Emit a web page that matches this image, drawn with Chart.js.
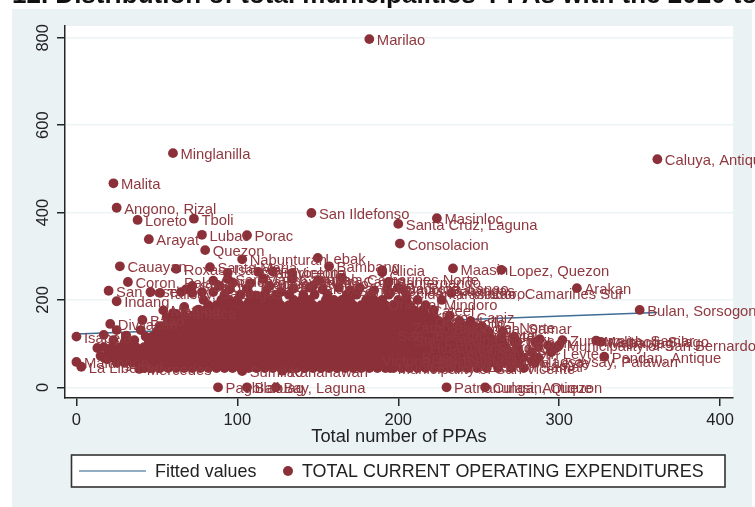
<!DOCTYPE html>
<html>
<head>
<meta charset="utf-8">
<title>PPAs scatter</title>
<script src="https://cdn.jsdelivr.net/npm/chart.js@4"></script>
<style>
    html, body { margin: 0; padding: 0; background: #fff; overflow: hidden; width: 755px; height: 507px; }
    #title { position: absolute; left: 12px; top: -21px; white-space: nowrap; z-index: 2;
             font: bold 26px "Liberation Sans", Arial, sans-serif; color: #111; }
    canvas { position: absolute; left: 0; top: 0; filter: blur(0.6px); }
</style>
</head>
<body>
<div id="title">12. Distribution of total municipalities' PPAs with the 2020 to</div>
<canvas id="chart" width="755" height="507"></canvas>
<script>
const xTicks = [0, 100, 200, 300, 400];
const yTicks = [0, 200, 400, 600, 800];
const xAxisTitle = 'Total number of PPAs';
const fittedName = 'Fitted values';
const scatterName = 'TOTAL CURRENT OPERATING EXPENDITURES';

// fitted line ends
const fittedX = [0, 361];
const fittedY = [122, 171];

// municipalities whose label can be read (or nearly)
const names = ['Marilao', 'Minglanilla', 'Malita', 'Angono, Rizal', 'Loreto', 'Tboli', 'Arayat', 'Lubao', 'Porac', 'Quezon',
    'San Ildefonso', 'Santa Cruz, Laguna', 'Masinloc', 'Consolacion', 'Caluya, Antique', 'Cauayan', 'Roxas, Isabela', 'Santa Maria',
    'Nabunturan', 'Lebak', 'Alicia', 'Maasin', 'Lopez, Quezon', 'Arakan', 'Bulan, Sorsogon', 'Coron, Palawan', 'San Jose', 'Indang',
    'Divilacan', 'Baao', 'Isabela', 'Pagbilao', 'Baliuag', 'Bay, Laguna', 'Patnanungan, Quezon', 'Culasi, Antique', 'Malungon',
    'La Libertad', 'Mercedes', 'Municipality of San Vicente', 'Sumilao', 'Kananawan', 'Sanfernando', 'Pasacao, Camarines Sur',
    'Occidental Mindoro', 'Oriental Mindoro', 'Cateel', 'Oton, Iloilo', 'Zamboanga del Norte', 'Burauen, Leyte', 'Talibon',
    'Zumarraga, Samar', 'Municipality of San Bernardo', 'Malitbog, Silago', 'Mahaplag', 'Sogod, Southern Leyte', 'Magsaysay, Palawan',
    'Pandan, Antique', 'Barcelona', 'Cabusao, Camarines Norte', 'San Mateo, Isabela', 'San Vicente', 'Bambang', 'Matnog', 'Talisay, Batangas',
    'Carmona, Cavite', 'Sibalom, Antique', 'Tagbina, Surigao', 'Naic, Cavite', 'Villasis', 'Talavera, Nueva Ecija', 'Santo Tomas, Batangas',
    'Bacolod, Lanao', 'Gumaca', 'San Jose, Occidental', 'Sta. Catalina, Negros', 'Tanauan, Leyte', 'Dulag, Leyte', 'Hinatuan, Surigao',
    'Bislig, Surigao', 'Baybay, Western Leyte', 'Victoria, Northern Samar', 'Guiuan, Eastern Samar', 'Balangiga, Samar', 'Dao, Capiz'];
const namedX = [182, 60, 23, 25, 38, 73, 45, 78, 106, 80,
    146, 200, 224, 201, 361, 27, 62, 83,
    103, 150, 190, 234, 264, 311, 350, 32, 20, 25,
    21, 41, 0, 88, 106, 124, 230, 254, 0,
    3, 39, 195, 103, 128, 194, 233,
    195, 189, 216, 218, 204, 218, 274,
    302, 300, 323, 326, 226, 283,
    328, 122, 134, 94, 113, 157, 54, 52,
    85, 72, 108, 150, 120, 145, 170,
    200, 60, 195, 205, 235, 245, 215,
    210, 220, 185, 215, 230, 222];
const namedY = [797, 536, 467, 411, 383, 386, 339, 349, 348, 314,
    399, 374, 387, 329, 522, 277, 271, 275,
    293, 296, 268, 272, 269, 227, 177, 241, 221, 197,
    145, 154, 116, 0, 0, 0, 0, 0, 58,
    47, 42, 44, 37, 38, 241, 216,
    216, 190, 176, 149, 138, 120, 104,
    108, 97, 107, 104, 78, 60,
    70, 265, 248, 248, 264, 277, 176, 216,
    244, 232, 238, 244, 232, 228, 222,
    228, 170, 120, 108, 98, 88, 92,
    70, 58, 62, 50, 135, 160];

// loose points round the edge of the cloud: [PPAs, expenditure]
const edgePoints = [
    [13,90],[15,72],[17,120],[19,64],[23,108],[25,131],[31,118],[36,108],[40,131],[43,116],
    [46,218],[54,138],[56,160],[62,168],[67,184],[72,216],[76,178],[79,200],[85,218],[86,180],
    [95,224],[98,190],[106,226],[107,194],[112,210],[118,222],[127,218],[135,226],[147,232],[153,224],
    [163,228],[176,228],[185,222],[193,226],[203,224],[227,200],[190,263],[94,262],[97,240],[134,261],
    [165,250],[65,218],[78,218],[68,224],[89,232],[116,248],[151,244],[288,110],[293,96],[298,90]
];

// the solid part of the cloud, labels lost in the overlap. each row: expenditure, then the PPAs read along it
const cloudRows = [
    [44, 42,47,52,57,62,67,72,77,82,87,92,97,102,107,112,117,122,127,132,137,142,147,152,157,162,167,172,177,182,187,192,197,202,207,212,217,222,227,232,237,243,249,255,262,270,278],
    [56, 25,30,35,40,45,50,55,60,65,70,75,80,85,90,95,100,105,110,115,120,125,130,135,140,145,150,155,160,165,170,175,180,185,190,195,200,205,210,215,220,225,230,235,240,245,250,255,260,265,270,275,285],
    [68, 17,22,27,32,37,42,47,52,57,62,67,72,77,82,87,92,97,102,107,112,117,122,127,132,137,142,147,152,157,162,167,172,177,182,187,192,197,202,207,212,217,222,227,232,237,242,247,252,257,262,267,272,278,287],
    [80, 20,25,30,35,40,45,50,55,60,65,70,75,80,85,90,95,100,105,110,115,120,125,130,135,140,145,150,155,160,165,170,175,180,185,190,195,200,205,210,215,220,225,230,235,240,245,250,255,260,265,270,275,283,295],
    [92, 17,22,27,32,37,42,47,52,57,62,67,72,77,82,87,92,97,102,107,112,117,122,127,132,137,142,147,152,157,162,167,172,177,182,187,192,197,202,207,212,217,222,227,232,237,242,247,252,257,262,267,274,287],
    [104, 30,35,45,50,55,60,65,70,75,80,85,90,95,100,105,110,115,120,125,130,135,140,145,150,155,160,165,170,175,180,185,190,195,200,205,210,215,220,225,230,235,240,245,250,255,260,265,272,285],
    [116, 47,52,57,62,67,72,77,82,87,92,97,102,107,112,117,122,127,132,137,142,147,152,157,162,167,172,177,182,187,192,197,202,207,212,217,222,227,232,237,242,247,252,257,264,272],
    [128, 50,55,60,65,70,75,80,85,90,95,100,105,110,115,120,125,130,135,140,145,150,155,160,165,170,175,180,185,190,195,200,205,210,215,220,225,230,235,240,245,250,256,265],
    [140, 52,57,62,67,72,77,82,87,92,97,102,107,112,117,122,127,132,137,142,147,152,157,162,167,172,177,182,187,192,197,202,207,212,217,222,227,232,237,242,247,252],
    [152, 60,65,70,75,80,85,90,95,100,105,110,115,120,125,130,135,140,145,150,155,160,165,170,175,180,185,190,195,200,205,210,215,220,225,230,238,245],
    [164, 67,72,77,82,87,92,97,102,107,112,117,122,127,132,137,142,147,152,157,162,167,172,177,182,187,192,197,202,207,212,217,222,232],
    [176, 75,80,85,90,95,100,105,110,115,120,125,130,135,140,145,150,155,160,165,170,175,180,185,190,195,200,205,210,215,222],
    [188, 82,87,92,97,102,107,112,117,122,127,132,137,142,147,152,157,162,167,172,177,182,187,192,197,202,207,217],
    [200, 90,95,100,110,115,120,125,135,140,145,155,160,165,170,180,185,190,200,205,212],
    [212, 92,102,108,117,124,132,141,148,156,168,174,183,194,205]
];

// named points first so the label plugin can index them by position
const scatterData = namedX.map((x, i) => ({ x: x, y: namedY[i] }))
    .concat(edgePoints.map(p => ({ x: p[0], y: p[1] })));
cloudRows.forEach(row => {
    row.slice(1).forEach(x => scatterData.push({ x: x, y: row[0] }));
});
const fittedData = fittedX.map((x, i) => ({ x: x, y: fittedY[i] }));

const MAROON = '#8b3038';
const LABEL_COL = '#90383f';
const LINE_BLUE = '#3f6d94';
const PANEL = '#eaf2f3';
const DARK = '#262626';
const FONT = '"Liberation Sans", Arial, sans-serif';

// stata style panel behind the plot
const panelPlugin = {
    id: 'panel',
    beforeDraw(chart) {
        const c = chart.ctx, a = chart.chartArea;
        c.save();
        c.fillStyle = PANEL;
        c.fillRect(12, 9, 740, 498);
        c.fillStyle = '#fff';
        c.fillRect(a.left, a.top, a.right - a.left, a.bottom - a.top);
        c.restore();
    }
};

const pointLabels = {
    id: 'pointLabels',
    afterDatasetsDraw(chart) {
        const c = chart.ctx;
        const pts = chart.getDatasetMeta(1).data;
        c.save();
        c.fillStyle = LABEL_COL;
        c.font = '14.8px ' + FONT;
        c.textBaseline = 'middle';
        names.forEach((n, i) => {
            c.fillText(n, pts[i].x + 7.5, pts[i].y + 2);
        });
        c.restore();
    }
};

// legend box, two keys side by side
const boxLegend = {
    id: 'boxLegend',
    afterDraw(chart) {
        const c = chart.ctx;
        const ds = chart.data.datasets;
        c.save();
        c.fillStyle = '#fff';
        c.fillRect(71.5, 455, 653.5, 32);
        c.strokeStyle = '#333';
        c.lineWidth = 1.6;
        c.strokeRect(71.5, 455, 653.5, 32);
        c.strokeStyle = '#6f93b0';
        c.lineWidth = 1.5;
        c.beginPath();
        c.moveTo(79, 471);
        c.lineTo(146, 471);
        c.stroke();
        c.fillStyle = MAROON;
        c.beginPath();
        c.arc(288, 471, 5, 0, Math.PI * 2);
        c.fill();
        c.fillStyle = '#222';
        c.font = '17.9px ' + FONT;
        c.textBaseline = 'middle';
        c.fillText(ds[0].label, 155, 472);
        c.fillText(ds[1].label, 302, 472);
        c.restore();
    }
};

new Chart(document.getElementById('chart').getContext('2d'), {
    type: 'scatter',
    data: {
        datasets: [{
            label: fittedName,
            data: fittedData,
            showLine: true,
            borderColor: LINE_BLUE,
            borderWidth: 1.5,
            pointRadius: 0,
            order: 2
        }, {
            label: scatterName,
            data: scatterData,
            backgroundColor: MAROON,
            borderColor: MAROON,
            borderWidth: 0,
            pointRadius: 4.9,
            order: 1
        }]
    },
    options: {
        responsive: false,
        animation: false,
        layout: { padding: { left: 12, right: 22, top: 26, bottom: 59 } },
        plugins: { legend: { display: false }, title: { display: false }, tooltip: { enabled: false } },
        scales: {
            x: {
                type: 'linear',
                min: -7.1,
                max: 408,
                afterBuildTicks(s) { s.ticks = xTicks.map(v => ({ value: v })); },
                afterFit(s) { s.height = 50; },
                grid: { drawOnChartArea: false, tickLength: 8, tickColor: DARK, lineWidth: 1.5 },
                border: { color: DARK, width: 1.5 },
                ticks: { color: '#222', padding: 5, maxRotation: 0, font: { family: FONT, size: 16.5 } },
                title: { display: true, text: xAxisTitle, color: '#222', padding: { top: 0, bottom: 0 }, font: { family: FONT, size: 18.3 } }
            },
            y: {
                type: 'linear',
                min: -24.5,
                max: 827,
                afterBuildTicks(s) { s.ticks = yTicks.map(v => ({ value: v })); },
                afterFit(s) { s.width = 53; },
                grid: { color: '#edf4f5', tickLength: 8, tickColor: DARK, lineWidth: 1.5 },
                border: { color: DARK, width: 1.5 },
                ticks: { color: '#222', padding: 0, minRotation: 90, maxRotation: 90, crossAlign: 'center', font: { family: FONT, size: 16.5 } }
            }
        }
    },
    plugins: [panelPlugin, pointLabels, boxLegend]
});
</script>
</body>
</html>
